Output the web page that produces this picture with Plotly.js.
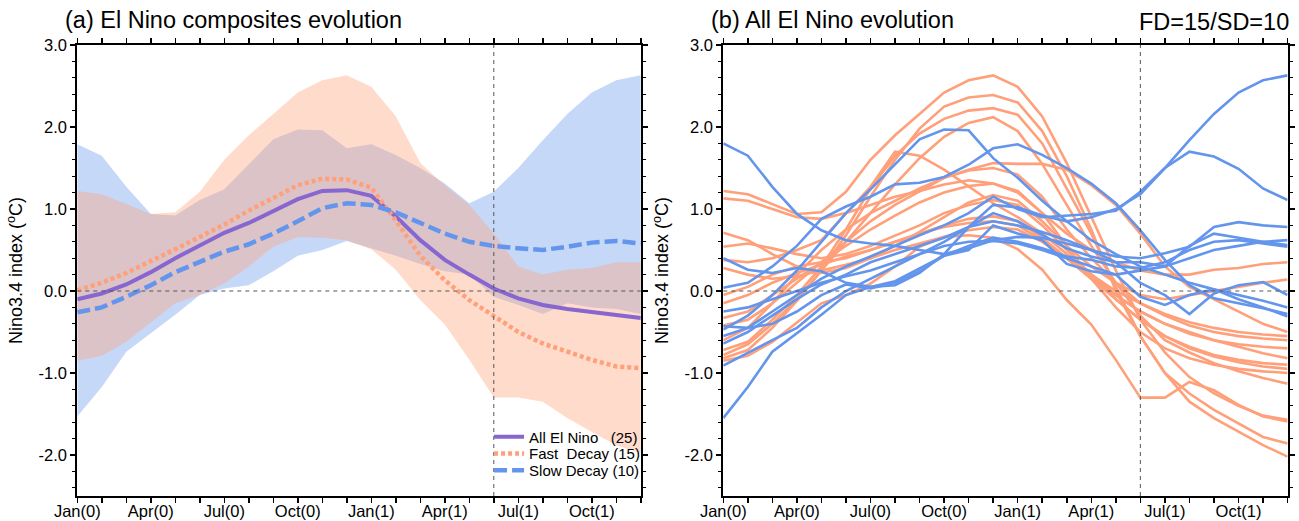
<!DOCTYPE html>
<html>
<head>
<meta charset="utf-8">
<script src="https://cdn.plot.ly/plotly-3.0.1.min.js"></script>
<style>html,body{margin:0;padding:0;background:#fff;}#chart{width:1299px;height:521px;}</style>
</head>
<body>
<div id="chart"></div>
<script>
// ---------- data ----------
const months = [0,1,2,3,4,5,6,7,8,9,10,11,12,13,14,15,16,17,18,19,20,21,22,23];
const tickMonths = [0,3,6,9,12,15,18,21];
const tickLabels = ["Jan(0)","Apr(0)","Jul(0)","Oct(0)","Jan(1)","Apr(1)","Jul(1)","Oct(1)"];
const yTickVals = [-2,-1,0,1,2,3];
const yTickText = ["-2.0","-1.0","0.0","1.0","2.0","3.0"];
const decayStartMonth = 17; // Jun(1) reference line

// panel (a) composites
const allElNino = [-0.10,-0.03,0.08,0.23,0.40,0.56,0.71,0.83,0.97,1.12,1.22,1.23,1.16,0.91,0.62,0.38,0.20,0.03,-0.09,-0.17,-0.22,-0.26,-0.30,-0.33];
const fastDecay = [0.01,0.10,0.22,0.36,0.51,0.66,0.81,0.98,1.14,1.29,1.37,1.36,1.26,0.86,0.43,0.13,-0.11,-0.30,-0.50,-0.64,-0.74,-0.84,-0.92,-0.94];
const slowDecay = [-0.26,-0.20,-0.07,0.07,0.23,0.35,0.48,0.57,0.70,0.85,1.01,1.07,1.05,0.96,0.83,0.70,0.60,0.55,0.52,0.50,0.54,0.59,0.61,0.58];
const fastUpper = [1.22,1.18,1.06,0.94,0.96,1.21,1.60,1.90,2.16,2.42,2.57,2.63,2.49,2.13,1.56,1.29,1.05,0.70,0.30,0.20,0.26,0.28,0.35,0.35];
const fastLower = [-0.85,-0.79,-0.62,-0.39,-0.15,-0.05,0.09,0.30,0.54,0.66,0.65,0.62,0.51,0.26,-0.11,-0.41,-0.84,-1.30,-1.30,-1.35,-1.55,-1.72,-1.88,-1.98];
const slowUpper = [1.79,1.65,1.27,0.94,0.92,1.11,1.24,1.55,1.85,1.97,1.96,1.74,1.79,1.66,1.50,1.31,1.07,1.21,1.50,1.84,2.16,2.42,2.57,2.63];
const slowLower = [-1.53,-1.17,-0.74,-0.52,-0.29,-0.05,0.03,0.07,0.24,0.43,0.50,0.61,0.52,0.43,0.33,0.24,0.20,-0.07,-0.17,-0.28,-0.15,-0.20,-0.22,-0.28];

// panel (b) fast-decay events (15)
const fd01 = [1.22,1.18,1.06,0.94,0.96,1.21,1.60,1.90,2.16,2.42,2.57,2.63,2.49,2.13,1.56,0.90,0.25,-0.35,-0.75,-1.05,-1.25,-1.40,-1.52,-1.57];
const fd02 = [-0.82,-0.72,-0.45,-0.12,0.25,0.68,1.15,1.60,1.98,2.25,2.36,2.39,2.30,1.95,1.40,0.75,0.00,-0.55,-1.00,-1.35,-1.55,-1.72,-1.88,-2.02];
const fd03 = [-0.72,-0.62,-0.35,-0.05,0.30,0.75,1.25,1.65,1.92,2.10,2.20,2.23,2.15,1.80,1.25,0.70,0.05,-0.55,-1.00,-1.25,-1.45,-1.62,-1.78,-1.86];
const fd04 = [-0.85,-0.79,-0.62,-0.39,-0.15,-0.05,0.09,0.30,0.54,0.66,0.68,0.65,0.51,0.26,-0.11,-0.41,-0.84,-1.30,-1.30,-1.11,-1.21,-1.39,-1.53,-1.59];
const fd05 = [-0.78,-0.65,-0.40,-0.10,0.25,0.60,0.95,1.30,1.62,1.88,2.05,2.12,1.95,1.55,1.05,0.55,0.10,-0.30,-0.60,-0.75,-0.88,-0.98,-1.06,-1.13];
const fd06 = [0.38,0.35,0.40,0.50,0.62,0.95,1.27,1.70,1.65,1.48,1.27,1.07,0.90,0.70,0.45,0.20,-0.05,-0.25,-0.40,-0.50,-0.60,-0.68,-0.76,-0.82];
const fd07 = [-0.60,-0.45,-0.15,0.20,0.50,0.75,0.95,1.10,1.25,1.38,1.48,1.56,1.55,1.55,1.48,1.29,1.05,0.70,0.30,0.05,-0.10,-0.25,-0.40,-0.50];
const fd08 = [1.13,1.10,1.00,0.90,0.88,0.95,1.05,1.15,1.22,1.30,1.35,1.31,1.20,0.95,0.70,0.50,0.35,0.25,0.20,0.20,0.26,0.28,0.33,0.35];
const fd09 = [0.71,0.62,0.45,0.30,0.22,0.28,0.40,0.55,0.72,0.90,1.08,1.17,1.10,0.85,0.55,0.30,0.10,-0.05,-0.10,-0.05,0.00,0.05,0.10,0.14];
const fd10 = [0.54,0.58,0.52,0.45,0.40,0.45,0.55,0.68,0.80,0.95,1.05,1.11,1.05,0.80,0.50,0.20,-0.10,-0.35,-0.55,-0.70,-0.80,-0.87,-0.92,-0.95];
const fd11 = [-0.05,0.05,0.20,0.30,0.35,0.40,0.50,0.60,0.70,0.80,0.88,0.91,0.85,0.65,0.40,0.15,-0.10,-0.35,-0.55,-0.68,-0.78,-0.84,-0.88,-0.90];
const fd12 = [-0.15,-0.05,0.10,0.22,0.32,0.42,0.50,0.60,0.70,0.78,0.83,0.85,0.80,0.62,0.40,0.15,-0.05,-0.25,-0.40,-0.52,-0.60,-0.65,-0.68,-0.70];
const fd13 = [-0.33,-0.25,-0.05,0.15,0.35,0.55,0.75,0.92,1.08,1.20,1.28,1.31,1.22,0.95,0.55,0.15,-0.20,-0.50,-0.70,-0.82,-0.90,-0.95,-0.98,-1.00];
const fd14 = [-0.42,-0.35,-0.15,0.10,0.35,0.60,0.85,1.05,1.22,1.38,1.47,1.50,1.42,1.15,0.75,0.40,0.10,-0.15,-0.30,-0.42,-0.50,-0.55,-0.58,-0.60];
const fd15 = [0.28,0.20,0.15,0.18,0.25,0.32,0.40,0.50,0.58,0.66,0.74,0.78,0.75,0.60,0.40,0.20,0.00,-0.15,-0.28,-0.38,-0.45,-0.50,-0.53,-0.55];

// panel (b) slow-decay events (10)
const sd01 = [1.80,1.65,1.27,0.94,0.74,0.62,0.58,0.55,0.50,0.45,0.52,0.62,0.66,0.65,0.58,0.50,0.42,0.40,0.46,0.54,0.78,0.84,0.80,0.78];
const sd02 = [0.04,0.10,0.30,0.55,0.88,1.03,1.15,1.30,1.32,1.39,1.54,1.74,1.79,1.66,1.50,1.31,1.07,0.74,0.38,0.07,-0.09,-0.15,-0.21,-0.28];
const sd03 = [-0.47,-0.30,-0.05,0.25,0.60,0.95,1.24,1.55,1.85,1.97,1.96,1.62,1.38,1.10,0.85,0.62,0.45,0.30,0.20,0.10,0.02,-0.05,-0.12,-0.20];
const sd04 = [-0.55,-0.45,-0.25,-0.05,0.15,0.30,0.42,0.55,0.68,0.80,0.95,1.15,1.00,0.90,0.92,0.94,0.98,1.21,1.50,1.84,2.16,2.42,2.57,2.63];
const sd05 = [0.40,0.26,0.22,0.28,0.24,0.10,0.05,0.07,0.22,0.45,0.78,1.05,1.02,0.92,0.85,0.90,1.00,1.18,1.50,1.70,1.64,1.49,1.25,1.11];
const sd06 = [-0.64,-0.50,-0.30,-0.10,0.08,0.20,0.35,0.45,0.55,0.65,0.78,0.85,0.80,0.72,0.62,0.50,0.35,0.10,-0.05,-0.28,-0.03,0.07,0.11,-0.05];
const sd07 = [-0.91,-0.75,-0.60,-0.45,-0.20,0.00,0.15,0.30,0.45,0.60,0.78,0.95,0.85,0.68,0.52,0.42,0.35,0.35,0.30,0.40,0.50,0.55,0.60,0.62];
const sd08 = [-1.55,-1.17,-0.74,-0.52,-0.29,-0.05,0.05,0.12,0.28,0.43,0.55,0.65,0.60,0.52,0.42,0.38,0.30,0.28,0.35,0.50,0.60,0.62,0.58,0.54];
const sd09 = [-0.25,-0.20,-0.10,0.00,0.10,0.18,0.25,0.35,0.45,0.55,0.60,0.61,0.58,0.50,0.40,0.30,0.20,-0.07,-0.17,-0.05,0.02,-0.10,-0.20,-0.31];
const sd10 = [-0.43,-0.45,-0.40,-0.25,-0.05,0.08,0.03,0.10,0.24,0.43,0.50,0.80,0.70,0.62,0.33,0.24,0.20,0.25,0.30,0.55,0.70,0.65,0.60,0.56];

// ---------- styles ----------
const PURPLE = '#8866D0';
const SALMON = '#FFA07A';
const CBLUE = '#6495ED';
const FONT = 'Liberation Sans, Arial, Helvetica, sans-serif';
const TICKSIZE = 16.5;

const fastEvents = [fd01,fd02,fd03,fd04,fd05,fd06,fd07,fd08,fd09,fd10,fd11,fd12,fd13,fd14,fd15];
const slowEvents = [sd01,sd02,sd03,sd04,sd05,sd06,sd07,sd08,sd09,sd10];

const traces = [];
// bands (panel a)
traces.push({x:months, y:slowLower, mode:'lines', line:{width:0, color:CBLUE}, showlegend:false, hoverinfo:'skip', xaxis:'x', yaxis:'y'});
traces.push({x:months, y:slowUpper, mode:'lines', line:{width:0, color:CBLUE}, fill:'tonexty', fillcolor:'rgba(100,149,237,0.37)', showlegend:false, hoverinfo:'skip', xaxis:'x', yaxis:'y'});
traces.push({x:months, y:fastLower, mode:'lines', line:{width:0, color:SALMON}, showlegend:false, hoverinfo:'skip', xaxis:'x', yaxis:'y'});
traces.push({x:months, y:fastUpper, mode:'lines', line:{width:0, color:SALMON}, fill:'tonexty', fillcolor:'rgba(255,160,122,0.38)', showlegend:false, hoverinfo:'skip', xaxis:'x', yaxis:'y'});
// composite lines (each in its own legend so rows can sit as tightly as the reference)
traces.push({x:months, y:allElNino, mode:'lines', name:'All El Nino\u00a0\u00a0\u00a0(25)', legend:'legend', line:{color:PURPLE, width:4}, xaxis:'x', yaxis:'y'});
traces.push({x:months, y:fastDecay, mode:'lines', name:'Fast\u00a0\u00a0Decay\u00a0(15)', legend:'legend2', line:{color:SALMON, width:4.5, dash:'4px,3px'}, xaxis:'x', yaxis:'y'});
traces.push({x:months, y:slowDecay, mode:'lines', name:'Slow Decay\u00a0(10)', legend:'legend3', line:{color:CBLUE, width:4.5, dash:'13px,5px'}, xaxis:'x', yaxis:'y'});
// panel b individual events
fastEvents.forEach(function(ev){
  traces.push({x:months, y:ev, mode:'lines', line:{color:SALMON, width:2.6}, showlegend:false, xaxis:'x2', yaxis:'y2'});
});
slowEvents.forEach(function(ev){
  traces.push({x:months, y:ev, mode:'lines', line:{color:CBLUE, width:2.6}, showlegend:false, xaxis:'x2', yaxis:'y2'});
});

function xAxis(domain, anchor){
  return {
    domain: domain, anchor: anchor, range:[0,23], tickmode:'array', tickvals:tickMonths, ticktext:tickLabels,
    ticks:'outside', ticklen:5, tickwidth:1.5, tickcolor:'#000', ticklabelstandoff:-6,
    showline:true, linewidth:2, linecolor:'#000', mirror:'ticks',
    showgrid:false, zeroline:false, automargin:false,
    tickfont:{family:FONT, size:TICKSIZE, color:'#000'},
    minor:{tickmode:'linear', tick0:0, dtick:1, ticks:'outside', ticklen:5, tickwidth:1.5, tickcolor:'#000', showgrid:false}
  };
}
function yAxis(domain, anchor){
  return {
    domain: domain, anchor: anchor, range:[-2.5,3], tickmode:'array', tickvals:yTickVals, ticktext:yTickText,
    ticks:'outside', ticklen:5, tickwidth:1.5, tickcolor:'#000',
    showline:true, linewidth:2, linecolor:'#000', mirror:'ticks',
    showgrid:false, zeroline:false, automargin:false,
    tickfont:{family:FONT, size:TICKSIZE, color:'#000'},
    minor:{tickmode:'linear', tick0:0, dtick:0.2, ticks:'outside', ticklen:3, tickwidth:1, tickcolor:'#000', showgrid:false},
    title:{text:'Nino3.4 index (<sup>o</sup>C)', font:{family:FONT, size:18, color:'#000'}, standoff:11}
  };
}
function legendAt(yPaper){
  return {x:0.3765, xanchor:'left', y:yPaper, yanchor:'middle', bgcolor:'rgba(0,0,0,0)', borderwidth:0,
          font:{family:FONT, size:15, color:'#000'}, itemwidth:30, traceorder:'normal'};
}

const yDom = [0.048, 0.9136];
const refLine = {color:'#555', width:1, dash:'4px,4px'};
const layout = {
  width:1299, height:521,
  margin:{l:0, r:0, t:0, b:0},
  paper_bgcolor:'#fff', plot_bgcolor:'#fff',
  font:{family:FONT, color:'#000'},
  xaxis: xAxis([0.0595, 0.4933], 'y'),
  yaxis: yAxis(yDom, 'x'),
  xaxis2: xAxis([0.5568, 0.9912], 'y2'),
  yaxis2: yAxis(yDom, 'x2'),
  showlegend:true,
  legend: legendAt(0.161),
  legend2: legendAt(0.129),
  legend3: legendAt(0.097),
  shapes:[
    {type:'line', xref:'x domain', x0:0, x1:1, yref:'y', y0:0, y1:0, line:refLine, layer:'above'},
    {type:'line', xref:'x', x0:decayStartMonth, x1:decayStartMonth, yref:'y domain', y0:0, y1:1, line:refLine, layer:'above'},
    {type:'line', xref:'x2 domain', x0:0, x1:1, yref:'y2', y0:0, y1:0, line:refLine, layer:'above'},
    {type:'line', xref:'x2', x0:decayStartMonth, x1:decayStartMonth, yref:'y2 domain', y0:0, y1:1, line:refLine, layer:'above'}
  ],
  annotations:[
    {text:'(a) El Nino composites evolution', xref:'paper', yref:'paper', x:0.0485, y:0.962, xanchor:'left', yanchor:'middle', showarrow:false, font:{family:FONT, size:23.5, color:'#000'}},
    {text:'(b) All El Nino evolution', xref:'paper', yref:'paper', x:0.5458, y:0.962, xanchor:'left', yanchor:'middle', showarrow:false, font:{family:FONT, size:23.5, color:'#000'}},
    {text:'FD=15/SD=10', xref:'paper', yref:'paper', x:0.9938, y:0.958, xanchor:'right', yanchor:'middle', showarrow:false, font:{family:FONT, size:23.5, color:'#000'}}
  ]
};

Plotly.newPlot('chart', traces, layout, {staticPlot:true, displayModeBar:false});
</script>
</body>
</html>
